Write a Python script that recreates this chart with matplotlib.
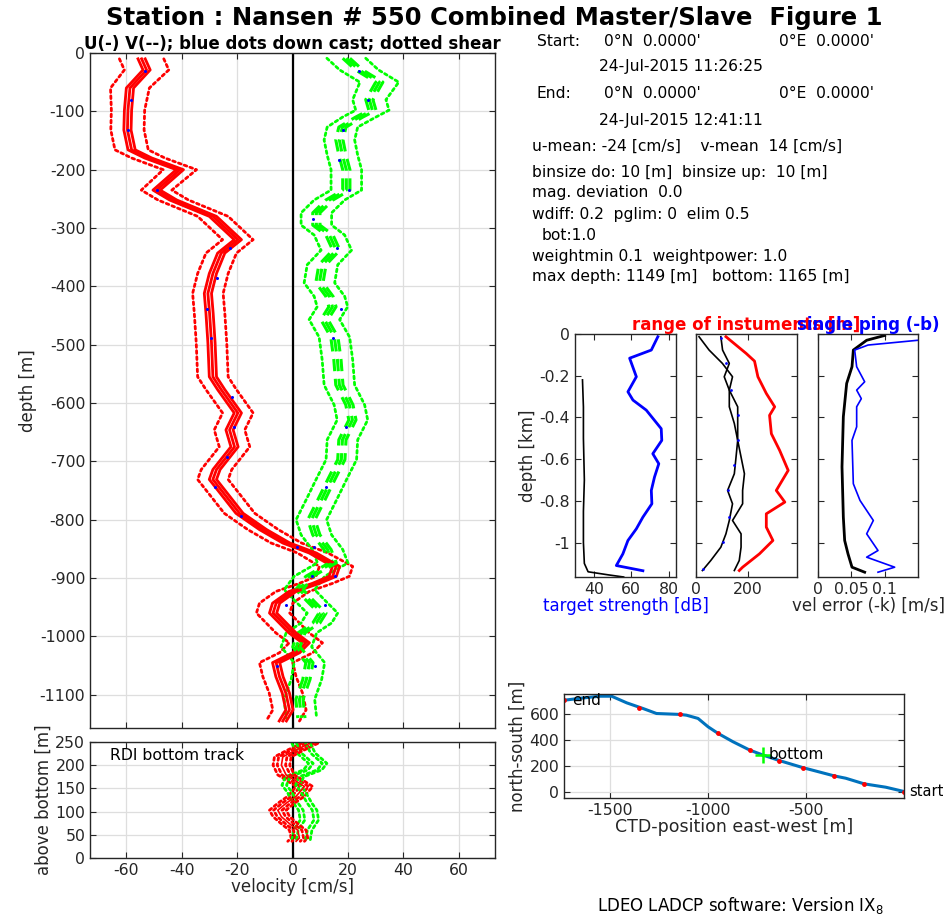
import numpy as np
import matplotlib
matplotlib.use("Agg")
import matplotlib.pyplot as plt

plt.rcParams['font.family'] = ['DejaVu Sans']
plt.rcParams['axes.unicode_minus'] = False

# ---- main profile (depth in m, velocity in cm/s)
u_depth = [10, 29, 60, 98, 132, 166, 180, 200, 235, 252, 280, 320, 343, 378, 412, 446, 497,
           555, 577, 617, 646, 675, 714, 731, 760, 789, 817, 840, 857, 880, 897, 909, 923,
           943, 960, 977, 994, 1011, 1028, 1045, 1069, 1097, 1126, 1145]
u_vel = [-54.4, -52.6, -58.6, -59.3, -59.5, -58, -52, -40.6, -49, -43, -28.7, -19.7, -25.7,
         -28.7, -30.5, -29.9, -29.2, -28.7, -25.7, -19.7, -22.7, -20.9, -27.4, -28.7, -23.9,
         -19.1, -10.6, -2.2, 7.3, 15.7, 14.5, 8.5, 0, -5.9, -7, -3.5, 0, 4.8, 1.3, -5.9,
         -4.7, -2.4, -1.1, -3.5]
u_err = [8, 8, 7, 6, 6, 6, 6, 6, 5.5, 5.5, 5.5, 5.5, 5.5, 5.5, 5.5, 5.5, 5.5, 5.5, 5.5, 5.5,
         5.5, 5.5, 5.5, 5.5, 5.5, 5.5, 5.5, 5.5, 5.5, 6, 6, 6, 6, 6, 6, 6, 6, 6, 6, 6, 6, 6, 6, 6]

v_depth = [9, 29, 50, 80, 98, 110, 127, 149, 175, 200, 235, 252, 274, 295, 312, 338, 363,
           394, 417, 435, 457, 487, 526, 569, 603, 629, 663, 697, 731, 766, 800, 826, 851,
           874, 897, 920, 943, 960, 977, 994, 1018, 1045, 1074, 1108, 1140]
v_vel = [19.4, 24, 31.3, 27.7, 28.8, 24, 18, 16.9, 18, 19.4, 19.4, 13.3, 8.6, 8.6, 13.3,
         15.8, 10.8, 9.7, 13.3, 14.4, 11.5, 15.1, 16.2, 16.9, 20.5, 21.6, 18, 17.6, 14,
         10.4, 6.8, 8.6, 12.6, 14.5, 6.1, 2.5, 7.2, 10.8, 8.6, 3.2, 1.4, 6.1, 5, 2.5, 3.2]
v_err = [7, 7, 7, 6, 6, 6, 5.5, 5.5, 5.5, 5.5, 5.5, 5.5, 5.5, 5.5, 5.5, 5.5, 5.5, 5.5, 5.5,
         5.5, 5.5, 5.5, 5.5, 5.5, 5.5, 5.5, 5.5, 5.5, 5.5, 5.5, 5.5, 5.5, 5.5, 5.5, 5.5, 5.5,
         5.5, 5.5, 5.5, 5.5, 5.5, 5.5, 5.5, 5.5, 5.5]

# down cast dots
dn_depth_u = [30, 80, 132, 234, 335, 386, 438, 489, 590, 641, 693, 744, 793, 846, 896, 947, 1050]
dn_u = [-53.2, -58.3, -59.2, -49, -22.7, -27.2, -30.8, -29.5, -21.7, -21.1, -23.6, -27.8,
        -18.5, 1.7, 15.5, -2.3, -5.6]
dn_depth_v = [30, 80, 132, 183, 234, 285, 335, 438, 489, 641, 744, 846, 896, 947, 1050]
dn_v = [23.9, 27.1, 18.1, 16.7, 20.3, 7.3, 15.9, 17.5, 14.7, 19.3, 12.1, 7.9, 6.9, 11.8, 8.2]

# bottom track panel (height above bottom)
bt_h_u = [247, 229, 218, 200, 179, 168, 154, 133, 118, 103, 89, 71, 60, 43, 36]
bt_u = [6.1, 0, -3.5, -4, -2.3, 0.7, 4.3, 1.3, -2.3, -5.3, -4, -0.5, 1.9, 2.5, 1.3]
bt_h_v = [247, 226, 204, 190, 175, 157, 143, 118, 103, 82, 60, 39]
bt_v = [3.1, 4.9, 9.1, 7.3, 0.7, -0.5, 1.3, 3.7, 5.5, 6.1, 3.7, 3.1]

# target strength panel (depth km)
ts_depth = [-0.013, -0.077, -0.116, -0.205, -0.277, -0.317, -0.365, -0.454, -0.51, -0.574,
            -0.622, -0.686, -0.75, -0.814, -0.878, -0.934, -0.99, -1.054, -1.11, -1.135]
ts_blue = [74.3, 70.8, 59.2, 62.8, 58.3, 61, 68.1, 76.1, 76.4, 71.6, 74.8, 72.5, 70.8,
           71.1, 66.3, 62.8, 58.3, 55.6, 52.1, 66.3]
ts_bk_depth = [-0.22, -0.35, -0.5, -0.7, -0.85, -1.0, -1.1, -1.14, -1.155, -1.165]
ts_black = [34, 34.5, 34.5, 35, 34.5, 34.5, 35, 37, 48, 56]

# range panel
rg_depth = [-0.013, -0.093, -0.13, -0.205, -0.285, -0.349, -0.39, -0.478, -0.558, -0.654,
            -0.75, -0.806, -0.862, -0.926, -0.99, -1.054, -1.118, -1.134]
rg_red = [115.6, 193.6, 226, 239, 271.5, 303.8, 284, 291, 323, 356, 310, 343, 271.5, 271.5,
          297, 245, 180, 167]
rg_bk_depth = [-0.013, -0.077, -0.141, -0.205, -0.269, -0.349, -0.429, -0.51, -0.59, -0.67,
               -0.75, -0.814, -0.894, -0.958, -1.022, -1.086, -1.134]
rg_black1 = [11.7, 50.6, 102, 141, 128.6, 128.6, 148, 161, 174, 187, 180, 180, 141, 174, 174,
             167, 148]
rg_black2 = [96, 102.6, 128.6, 109, 128.6, 161, 161, 161, 154.6, 148, 122, 141, 128.6,
             115.6, 96, 57, 24.7]
rg_dot_depth = [-0.021, -0.141, -0.269, -0.389, -0.51, -0.63, -0.75, -0.878, -0.998, -1.126]
rg_dot = [96, 115.6, 135, 161, 161, 148, 122, 128.6, 105, 27]

# vel error panel
ve_bk_depth = [-0.007, -0.03, -0.077, -0.157, -0.237, -0.397, -0.637, -0.878, -0.99, -1.054,
               -1.118, -1.142]
ve_black = [0.1, 0.073, 0.053, 0.051, 0.043, 0.038, 0.036, 0.038, 0.040, 0.045, 0.051, 0.070]
ve_bl_depth = [-0.03, -0.053, -0.077, -0.157, -0.229, -0.269, -0.31, -0.349, -0.445, -0.51,
               -0.718, -0.798, -0.894, -0.958, -1.038, -1.07, -1.118, -1.142]
ve_blue = [0.15, 0.075, 0.055, 0.058, 0.070, 0.058, 0.065, 0.058, 0.058, 0.051, 0.053, 0.063,
           0.083, 0.073, 0.09, 0.073, 0.115, 0.09]

# ship / CTD track (m)
trk_x = [0, -93, -204, -297, -356, -517, -636, -721, -788, -873, -949, -1000, -1051, -1110,
         -1144, -1263, -1331, -1415, -1492, -1551, -1636, -1735]
trk_y = [0, 33, 59, 102, 120, 184, 238, 281, 319, 383, 447, 498, 562, 587, 593, 600, 638,
         682, 733, 733, 720, 702]
trk_dot_x = [0, -204, -356, -517, -636, -788, -949, -1144, -1350, -1735]
trk_dot_y = [0, 59, 120, 184, 238, 319, 447, 593, 640, 702]
bot_x, bot_y = -721, 281

info = [
    (537, 42, "Start:"), (604, 42, "0°N  0.0000'"), (779, 42, "0°E  0.0000'"),
    (599, 67, "24-Jul-2015 11:26:25"),
    (537, 94, "End:"), (604, 94, "0°N  0.0000'"), (779, 94, "0°E  0.0000'"),
    (599, 120, "24-Jul-2015 12:41:11"),
    (532, 146, "u-mean: -24 [cm/s]    v-mean  14 [cm/s]"),
    (532, 173, "binsize do: 10 [m]  binsize up:  10 [m]"),
    (532, 193, "mag. deviation  0.0"),
    (532, 214, "wdiff: 0.2  pglim: 0  elim 0.5"),
    (542, 235, "bot:1.0"),
    (532, 256, "weightmin 0.1  weightpower: 1.0"),
    (532, 277, "max depth: 1149 [m]   bottom: 1165 [m]"),
]

W, H = 949, 917
fig = plt.figure(figsize=(W / 100, H / 100), dpi=100)
tk = '#262626'
gridc = '#dedede'
lab = 12


def box(l, t, r, b):
    return [l / W, 1 - b / H, (r - l) / W, (b - t) / H]


def style(ax, fs=11.3):
    ax.tick_params(direction='in', top=True, right=True, labelsize=fs, colors=tk, length=4)
    for s in ax.spines.values():
        s.set_color(tk)
        s.set_linewidth(1.0)
    ax.grid(True, color=gridc, lw=0.9)
    ax.set_axisbelow(True)


dots = dict(ls=(0, (1, 1.2)), lw=2.0, dash_capstyle='round')

# ---- main velocity profile
ax = fig.add_axes(box(90, 53, 495, 728))
ud = -np.array(u_depth)
uu = np.array(u_vel)
ue = np.array(u_err)
vd = -np.array(v_depth)
vv = np.array(v_vel)
ve = np.array(v_err)
ax.axvline(0, color='k', lw=1.6)
ax.plot(uu - ue, ud, color='r', **dots)
ax.plot(uu + ue, ud, color='r', **dots)
ax.plot(vv - ve, vd, color='#00ff00', **dots)
ax.plot(vv + ve, vd, color='#00ff00', **dots)
for off in [-1.3, 0, 1.3]:
    ax.plot(uu + off, ud, color='r', lw=2.0)
    ax.plot(vv + off, vd, color='#00ff00', lw=2.2, ls=(0, (4, 2.5)))
ax.plot(dn_u, -np.array(dn_depth_u), 'o', color='b', ms=2.2, mew=0)
ax.plot(dn_v, -np.array(dn_depth_v), 'o', color='b', ms=2.2, mew=0)
ax.set_xlim(-73, 73)
ax.set_ylim(-1157, 0)
ax.set_xticks(np.arange(-60, 61, 20))
ax.set_xticklabels([])
ax.set_yticks(np.arange(-1100, 1, 100))
style(ax)
ax.set_ylabel('depth [m]', fontsize=lab, color=tk, labelpad=2)
ax.set_title('U(-) V(--); blue dots down cast; dotted shear', fontsize=12,
             fontweight='bold', pad=2)

# ---- bottom track panel
ab = fig.add_axes(box(90, 742, 495, 858))
bu = np.array(bt_u)
bv = np.array(bt_v)
ab.axvline(0, color='k', lw=1.6)
for off in [-3, -1.5, 1.5, 3]:
    ab.plot(bu + off, bt_h_u, color='r', **dots)
    ab.plot(bv + off * 1.1, bt_h_v, color='#00ff00', **dots)
ab.plot(bu, bt_h_u, color='r', lw=1.2)
ab.set_xlim(-73, 73)
ab.set_ylim(0, 250)
ab.set_xticks(np.arange(-60, 61, 20))
ab.set_yticks(np.arange(0, 251, 50))
style(ab)
ab.set_xlabel('velocity [cm/s]', fontsize=lab, color=tk, labelpad=0)
ab.set_ylabel('above bottom [m]', fontsize=lab, color=tk, labelpad=2)
ab.text(0.05, 0.95, 'RDI bottom track', transform=ab.transAxes, fontsize=11.3, va='top')

# ---- target strength
a1 = fig.add_axes(box(575, 334, 676, 577))
a1.plot(ts_black, ts_bk_depth, color='k', lw=1.2)
a1.plot(ts_blue, ts_depth, color='b', lw=2.0)
a1.set_xlim(30, 84)
a1.set_ylim(-1.165, 0)
a1.set_xticks([40, 60, 80])
a1.set_yticks([-1, -0.8, -0.6, -0.4, -0.2, 0])
a1.set_yticklabels(['-1', '-0.8', '-0.6', '-0.4', '-0.2', '0'])
style(a1)
a1.grid(False)
a1.set_xlabel('target strength [dB]', color='b', fontsize=lab, labelpad=0)
a1.set_ylabel('depth [km]', fontsize=lab, color=tk, labelpad=2)

# ---- range
a2 = fig.add_axes(box(696, 334, 797, 577))
a2.plot(rg_black1, rg_bk_depth, color='k', lw=1.2)
a2.plot(rg_black2, rg_bk_depth, color='k', lw=1.2)
a2.plot(rg_red, rg_depth, color='r', lw=2.0)
a2.plot(rg_dot, rg_dot_depth, 'o', color='b', ms=2, mew=0)
a2.set_xlim(0, 390)
a2.set_ylim(-1.165, 0)
a2.set_xticks([0, 200])
a2.set_yticks([-1, -0.8, -0.6, -0.4, -0.2, 0])
a2.set_yticklabels([])
style(a2)
a2.grid(False)
a2.set_title('range of instuments [m]', color='r', fontsize=12, fontweight='bold', pad=3)

# ---- vel error
a3 = fig.add_axes(box(818, 334, 918, 577))
a3.plot(ve_black, ve_bk_depth, color='k', lw=2.0)
a3.plot(ve_blue, ve_bl_depth, color='b', lw=1.2)
a3.set_xlim(0, 0.15)
a3.set_ylim(-1.165, 0)
a3.set_xticks([0, 0.05, 0.1])
a3.set_xticklabels(['0', '0.05', '0.1'])
a3.set_yticks([-1, -0.8, -0.6, -0.4, -0.2, 0])
a3.set_yticklabels([])
style(a3)
a3.grid(False)
a3.set_title('single ping (-b)', color='b', fontsize=12, fontweight='bold', pad=3)
a3.set_xlabel('vel error (-k) [m/s]', fontsize=lab, color=tk, labelpad=0)

# ---- track
a4 = fig.add_axes(box(564, 694, 904, 798))
a4.plot(trk_x, trk_y, color='#0072bd', lw=2.2)
a4.plot(trk_dot_x, trk_dot_y, 'o', color='r', ms=3.5, mew=0)
a4.plot(bot_x, bot_y, '+', color='#00ff00', ms=12, mew=1.8)
a4.text(trk_x[-1] + 40, trk_y[-1], 'end', fontsize=11, va='center')
a4.text(trk_x[0] + 25, trk_y[0], 'start', fontsize=10.5, va='center', clip_on=False)
a4.text(bot_x + 30, bot_y, 'bottom', fontsize=11, va='center')
a4.set_xlim(-1735, 0)
a4.set_ylim(-50, 750)
a4.set_xticks([-1500, -1000, -500])
a4.set_yticks([0, 200, 400, 600])
style(a4)
a4.set_xlabel('CTD-position east-west [m]', fontsize=12.5, color=tk, labelpad=0)
a4.set_ylabel('north-south [m]', fontsize=lab, color=tk, labelpad=2)

# ---- texts
fig.text(494 / W, 1 - 18 / H, 'Station : Nansen # 550 Combined Master/Slave  Figure 1',
         fontsize=17.5, fontweight='bold', ha='center', va='center')
for x, y, s in info:
    fig.text(x / W, 1 - y / H, s, fontsize=11.2, va='center', ha='left')
fig.text(597 / W, 1 - 905 / H, r'LDEO LADCP software: Version IX$_8$', fontsize=12,
         va='center', ha='left')

fig.savefig('out.png', dpi=100)
